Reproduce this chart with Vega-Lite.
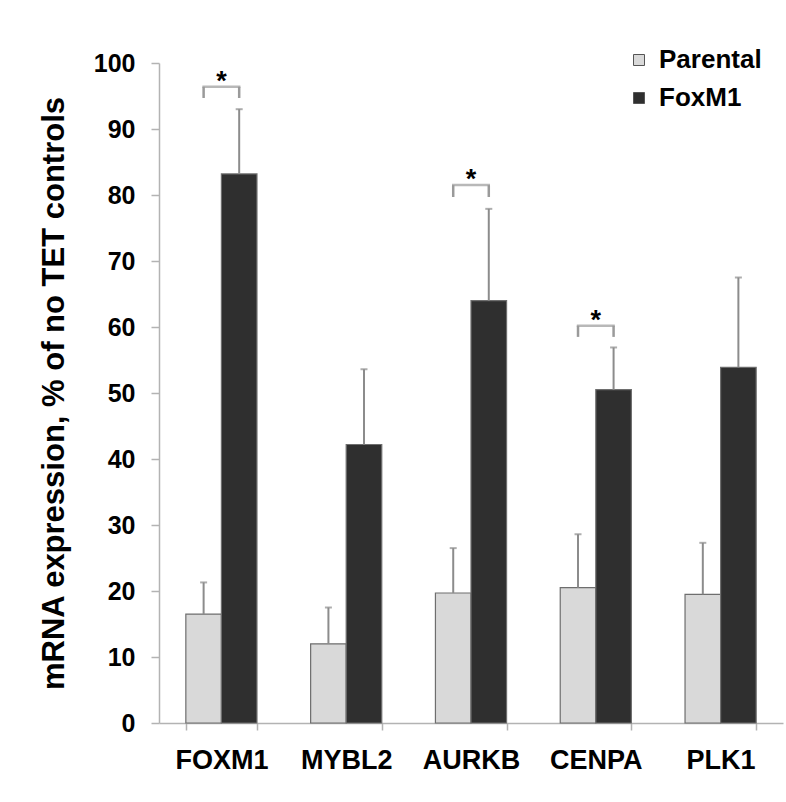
{
  "$schema": "https://vega.github.io/schema/vega-lite/v6.json",
  "width": 624,
  "height": 660,
  "autosize": {"type": "none"},
  "padding": {"left": 159, "top": 63, "right": 3, "bottom": 79},
  "background": "white",
  "config": {
    "view": {"stroke": null},
    "font": "Liberation Sans",
    "axis": {"labelFont": "Liberation Sans", "titleFont": "Liberation Sans"},
    "legend": {"labelFont": "Liberation Sans"}
  },
  "datasets": {
    "expression": [
      {"gene": "FOXM1", "group": "Parental", "mean": 16.5, "upper": 21.3},
      {"gene": "FOXM1", "group": "FoxM1", "mean": 83.2, "upper": 93.0},
      {"gene": "MYBL2", "group": "Parental", "mean": 12.0, "upper": 17.5},
      {"gene": "MYBL2", "group": "FoxM1", "mean": 42.2, "upper": 53.6},
      {"gene": "AURKB", "group": "Parental", "mean": 19.7, "upper": 26.5},
      {"gene": "AURKB", "group": "FoxM1", "mean": 64.0, "upper": 77.9},
      {"gene": "CENPA", "group": "Parental", "mean": 20.5, "upper": 28.6},
      {"gene": "CENPA", "group": "FoxM1", "mean": 50.5, "upper": 56.9},
      {"gene": "PLK1", "group": "Parental", "mean": 19.5, "upper": 27.3},
      {"gene": "PLK1", "group": "FoxM1", "mean": 53.9, "upper": 67.5}
    ],
    "brackets": [
      {"gene": "FOXM1", "top": 96.4, "bottom": 94.7, "label": "*"},
      {"gene": "AURKB", "top": 81.5, "bottom": 79.7, "label": "*"},
      {"gene": "CENPA", "top": 60.2, "bottom": 58.5, "label": "*"}
    ],
    "bracketLegs": [
      {"gene": "FOXM1", "group": "Parental", "top": 96.4, "bottom": 94.7},
      {"gene": "FOXM1", "group": "FoxM1", "top": 96.4, "bottom": 94.7},
      {"gene": "AURKB", "group": "Parental", "top": 81.5, "bottom": 79.7},
      {"gene": "AURKB", "group": "FoxM1", "top": 81.5, "bottom": 79.7},
      {"gene": "CENPA", "group": "Parental", "top": 60.2, "bottom": 58.5},
      {"gene": "CENPA", "group": "FoxM1", "top": 60.2, "bottom": 58.5}
    ]
  },
  "layer": [
    {
      "data": {"name": "expression"},
      "mark": {"type": "bar", "stroke": "#6e6e6e", "strokeWidth": 1.2},
      "encoding": {
        "x": {
          "field": "gene",
          "type": "nominal",
          "sort": ["FOXM1", "MYBL2", "AURKB", "CENPA", "PLK1"],
          "scale": {"paddingInner": 0.43, "paddingOuter": 0.215},
          "axis": {
            "title": null,
            "labelAngle": 0,
            "tickBand": "extent",
            "ticks": true,
            "tickSize": 7,
            "tickColor": "#b3b3b3",
            "tickWidth": 1.5,
            "domainColor": "#b3b3b3",
            "domainWidth": 1.5,
            "labelFontSize": 27,
            "labelFontWeight": "bold",
            "labelColor": "#000000",
            "labelPadding": 17
          }
        },
        "xOffset": {
          "field": "group",
          "type": "nominal",
          "sort": ["Parental", "FoxM1"],
          "scale": {"paddingInner": 0, "paddingOuter": 0}
        },
        "y": {
          "field": "mean",
          "type": "quantitative",
          "scale": {"domain": [0, 100], "nice": false},
          "axis": {
            "title": "mRNA expression, % of no TET controls",
            "values": [0, 10, 20, 30, 40, 50, 60, 70, 80, 90, 100],
            "grid": false,
            "domainColor": "#b3b3b3",
            "domainWidth": 1.5,
            "tickColor": "#b3b3b3",
            "tickWidth": 1.5,
            "tickSize": 8,
            "labelFontSize": 25,
            "labelFontWeight": "bold",
            "labelColor": "#000000",
            "labelPadding": 16,
            "titleFontSize": 31,
            "titleFontWeight": "bold",
            "titleColor": "#000000",
            "titleAngle": 270,
            "titleX": -105,
            "titleY": 330,
            "titleAlign": "center",
            "titleBaseline": "middle"
          }
        },
        "fill": {
          "field": "group",
          "type": "nominal",
          "sort": ["Parental", "FoxM1"],
          "scale": {"domain": ["Parental", "FoxM1"], "range": ["#d9d9d9", "#2f2f2f"]},
          "legend": {
            "title": null,
            "orient": "none",
            "legendX": 467,
            "legendY": -16,
            "symbolType": "square",
            "symbolSize": 121,
            "symbolStrokeColor": "#555555",
            "symbolStrokeWidth": 1,
            "labelFontSize": 26,
            "labelFontWeight": "bold",
            "labelColor": "#000000",
            "labelOffset": 7,
            "rowPadding": 12
          }
        }
      }
    },
    {
      "data": {"name": "expression"},
      "mark": {"type": "rule", "color": "#8c8c8c", "strokeWidth": 2},
      "encoding": {
        "x": {"field": "gene", "type": "nominal", "sort": ["FOXM1", "MYBL2", "AURKB", "CENPA", "PLK1"]},
        "xOffset": {"field": "group", "type": "nominal", "sort": ["Parental", "FoxM1"]},
        "y": {"field": "mean", "type": "quantitative"},
        "y2": {"field": "upper"}
      }
    },
    {
      "data": {"name": "expression"},
      "mark": {"type": "tick", "color": "#8c8c8c", "size": 7, "thickness": 2},
      "encoding": {
        "x": {"field": "gene", "type": "nominal", "sort": ["FOXM1", "MYBL2", "AURKB", "CENPA", "PLK1"]},
        "xOffset": {"field": "group", "type": "nominal", "sort": ["Parental", "FoxM1"]},
        "y": {"field": "upper", "type": "quantitative"}
      }
    },
    {
      "data": {"name": "bracketLegs"},
      "mark": {"type": "rule", "color": "#9a9a9a", "strokeWidth": 2.5},
      "encoding": {
        "x": {"field": "gene", "type": "nominal", "sort": ["FOXM1", "MYBL2", "AURKB", "CENPA", "PLK1"]},
        "xOffset": {"field": "group", "type": "nominal", "sort": ["Parental", "FoxM1"]},
        "y": {"field": "top", "type": "quantitative"},
        "y2": {"field": "bottom"}
      }
    },
    {
      "data": {"name": "brackets"},
      "mark": {"type": "tick", "color": "#9a9a9a", "size": 38, "thickness": 2.5},
      "encoding": {
        "x": {"field": "gene", "type": "nominal", "sort": ["FOXM1", "MYBL2", "AURKB", "CENPA", "PLK1"]},
        "y": {"field": "top", "type": "quantitative"}
      }
    },
    {
      "data": {"name": "brackets"},
      "mark": {"type": "text", "fontSize": 27, "fontWeight": "bold", "color": "#000000", "baseline": "alphabetic", "align": "center", "dy": 3},
      "encoding": {
        "x": {"field": "gene", "type": "nominal", "sort": ["FOXM1", "MYBL2", "AURKB", "CENPA", "PLK1"]},
        "y": {"field": "top", "type": "quantitative"},
        "text": {"field": "label"}
      }
    }
  ]
}
